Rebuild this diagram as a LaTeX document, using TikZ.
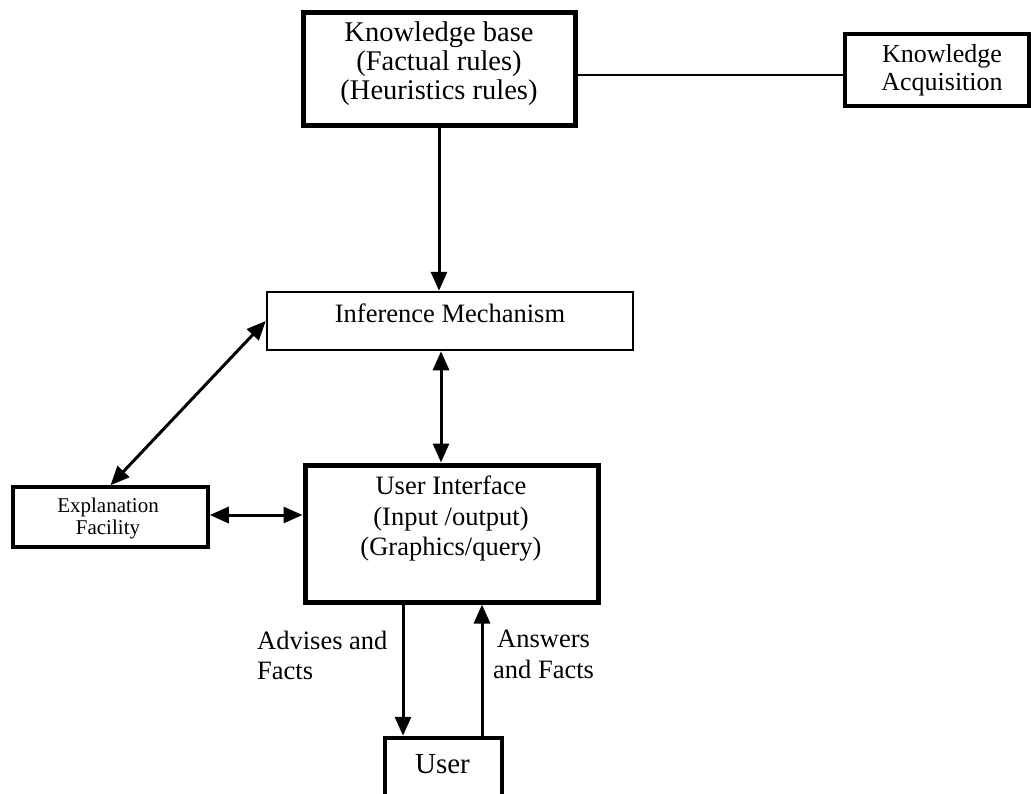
\documentclass[tikz,border=0pt]{standalone}
\usepackage{fontspec}
\setmainfont{Liberation Serif}
\usetikzlibrary{arrows.meta,calc}
\begin{document}
\begin{tikzpicture}[x=1pt,y=-1pt,
  box/.style={draw, inner sep=0pt, fill=none},
  txt/.style={inner sep=0pt, align=center, font=\fontsize{26.5}{30.5}\selectfont},
  conn/.style={line width=2.2pt},
  tip/.tip={Triangle[length=19pt,width=16pt]},
  arr/.style={line width=3pt, -tip},
  arrb/.style={line width=3pt, tip-tip}]
  \path[use as bounding box, clip] (0,0) rectangle (1031,793);
  \fill[white] (0,0) rectangle (1031,793);

  % boxes
  \node[box, line width=5pt, minimum width=272pt, minimum height=113pt] (kb) at (439,68.5) {};
  \node[box, line width=3.5pt, minimum width=184pt, minimum height=72pt] (ka) at (937,70) {};
  \node[box, line width=2.5pt, minimum width=366pt, minimum height=58pt] (inf) at (450,321) {};
  \node[box, line width=5pt, minimum width=293pt, minimum height=137pt] (ui) at (451.5,533.5) {};
  \node[box, line width=3.5pt, minimum width=195pt, minimum height=60pt] (expl) at (110.5,517) {};
  \node[box, line width=4.5pt, minimum width=117pt, minimum height=92pt] (user) at (443.5,784) {};

  % box texts
  \node[txt, font=\fontsize{28.5}{29}\selectfont] (kbt) at (439,64) {Knowledge base\\(Factual rules)\\(Heuristics rules)};
  \node[txt, font=\fontsize{26}{28}\selectfont] (kat) at (942,70) {Knowledge\\Acquisition};
  \node[txt, anchor=base] (inft) at (450,322) {Inference Mechanism};
  \node[txt] (uit) at (451,519) {User Interface\\(Input /output)\\(Graphics/query)};
  \node[txt, font=\fontsize{21}{22}\selectfont] (explt) at (108,518) {Explanation\\Facility};
  \node[txt, anchor=base, font=\fontsize{29}{32}\selectfont] (usert) at (442.5,773) {User};

  % flow labels
  \node[txt, align=left, anchor=west] (adv) at (257,655.5) {Advises and\\Facts};
  \node[txt, align=left, anchor=west] (ans) at (493,654.5) {\hspace*{4pt}Answers\\and Facts};

  % connectors
  \coordinate (kbka) at ($(kb.east)+(0,6.5)$);
  \draw[conn] (kbka) -- (kbka -| ka.west);
  \draw[arr] (kb.south) -- (kb.south |- inf.north);
  \coordinate (iu) at ([xshift=-9pt]inf.south);
  \draw[arrb] (iu) -- (iu |- ui.north);
  \coordinate (eu) at ([yshift=2pt]expl.east);
  \draw[arrb] (eu) -- (eu -| ui.west);
  \draw[arrb] (expl.north) -- (inf.west);
  \coordinate (dn) at ([xshift=-40.5pt]user.north);
  \coordinate (up) at ([xshift=38.5pt]user.north);
  \draw[arr] (dn |- ui.south) -- (dn);
  \draw[arr] (up) -- (up |- ui.south);
\end{tikzpicture}
\end{document}
